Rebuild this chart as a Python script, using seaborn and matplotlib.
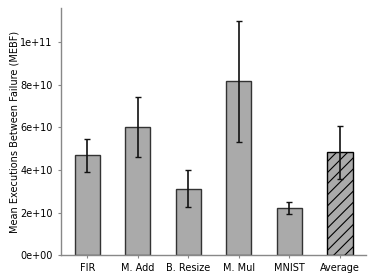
import numpy as np
import pandas as pd
import matplotlib
matplotlib.use('Agg')
import matplotlib.pyplot as plt
import seaborn as sns

# values
benchmarks = ['FIR', 'M. Add', 'B. Resize', 'M. Mul', 'MNIST', 'Average']
mebf = [4.68e10, 6.00e10, 3.11e10, 8.17e10, 2.22e10, 4.84e10]
err_high = [5.46e10, 7.43e10, 3.98e10, 1.10e11, 2.50e10, 6.07e10]
err_low = [3.88e10, 4.59e10, 2.24e10, 5.32e10, 1.94e10, 3.58e10]

df = pd.DataFrame({'Benchmark': benchmarks, 'MEBF': mebf})

sns.set_style('white')
plt.rcParams['font.family'] = ['DejaVu Sans']
plt.rcParams['hatch.linewidth'] = 0.8

fig = plt.figure(figsize=(3.74, 2.8), dpi=100)
ax = fig.add_axes([0.163, 0.089, 0.816, 0.882])

sns.barplot(data=df, x='Benchmark', y='MEBF', color='#aaaaaa', width=0.5,
            edgecolor='#333333', linewidth=1.0, saturation=1, ax=ax)

# hatch the average bar
avg_bar = ax.patches[-1]
avg_bar.set_hatch('///')
avg_bar.set_edgecolor('black')

yerr = np.array([np.array(mebf) - np.array(err_low), np.array(err_high) - np.array(mebf)])
ax.errorbar(np.arange(len(benchmarks)), mebf, yerr=yerr, fmt='none',
            ecolor='#111111', elinewidth=1.2, capsize=2, capthick=1.0)

ax.set_ylim(0, 1.16e11)
ax.set_xlim(-0.52, 5.52)
ax.set_xlabel('')
ax.set_ylabel('Mean Executions Between Failure (MEBF)', fontsize=7, color='black', labelpad=0.5)
ax.tick_params(axis='both', labelsize=7, length=2.5, left=True, bottom=True,
               colors='#888888', labelcolor='black')
ax.yaxis.set_major_formatter(matplotlib.ticker.FuncFormatter(
    lambda v, p: '{:.0e}'.format(v)))
for s in ['top', 'right']:
    ax.spines[s].set_visible(False)
for s in ['left', 'bottom']:
    ax.spines[s].set_color('#888888')
    ax.spines[s].set_linewidth(1.0)

fig.savefig('out.png', dpi=100)
